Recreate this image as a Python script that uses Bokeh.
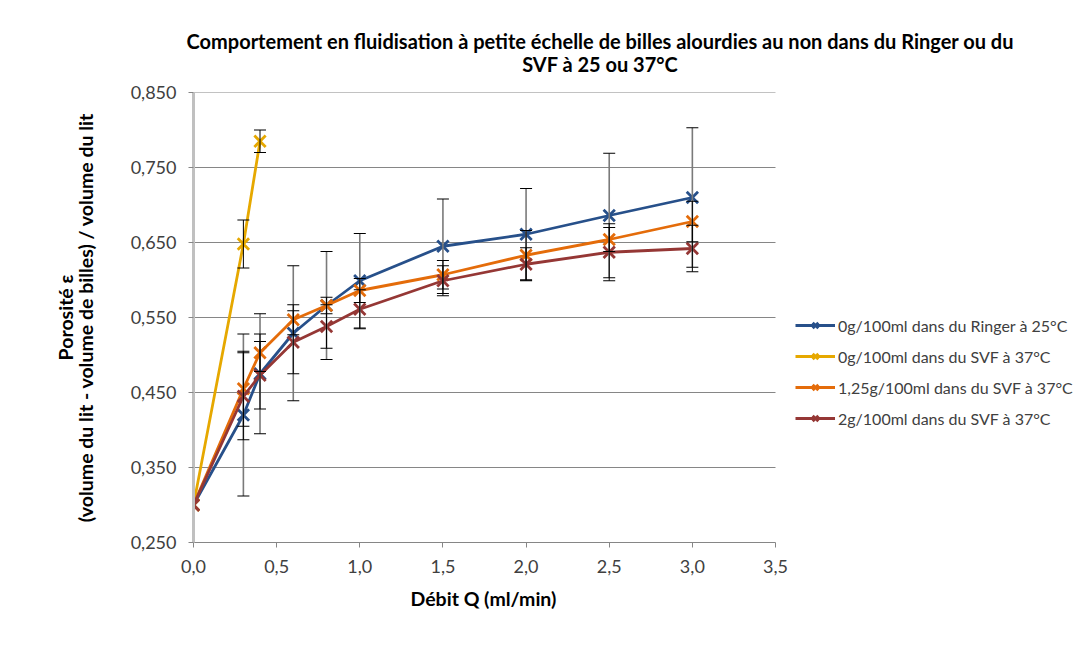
from bokeh.plotting import figure
from bokeh.layouts import column
from bokeh.models import (ColumnDataSource, FixedTicker, Range1d, Whisker, TeeHead,
                          Legend, LegendItem, Title, Div)
from bokeh.embed import file_html
from bokeh.resources import INLINE

# ---------------- data ----------------
title_line1 = "Comportement en fluidisation à petite échelle de billes alourdies au non dans du Ringer ou du"
title_line2 = "SVF à 25 ou 37°C"
x_title = "Débit Q (ml/min)"
y_title1 = "Porosité ε"
y_title2 = "(volume du lit - volume de billes) / volume du lit"

series_names = [
    "0g/100ml dans du Ringer à 25°C",
    "0g/100ml dans du SVF à 37°C",
    "1,25g/100ml dans du SVF à 37°C",
    "2g/100ml dans du SVF à 37°C",
]

debit_ringer = [0.0, 0.3, 0.4, 0.6, 0.8, 1.0, 1.5, 2.0, 2.5, 3.0]
por_ringer = [0.300, 0.420, 0.475, 0.529, 0.566, 0.599, 0.645, 0.661, 0.686, 0.710]
err_ringer = [0.0, 0.108, 0.080, 0.090, 0.072, 0.063, 0.063, 0.061, 0.083, 0.093]

debit_svf0 = [0.0, 0.3, 0.4]
por_svf0 = [0.300, 0.648, 0.785]
err_svf0 = [0.0, 0.032, 0.015]

debit_svf125 = [0.0, 0.3, 0.4, 0.6, 0.8, 1.0, 1.5, 2.0, 2.5, 3.0]
por_svf125 = [0.300, 0.455, 0.503, 0.547, 0.566, 0.586, 0.607, 0.633, 0.654, 0.678]
err_svf125 = [0.0, 0.050, 0.025, 0.020, 0.011, 0.016, 0.019, 0.033, 0.016, 0.027]

debit_svf2 = [0.0, 0.3, 0.4, 0.6, 0.8, 1.0, 1.5, 2.0, 2.5, 3.0]
por_svf2 = [0.300, 0.445, 0.473, 0.517, 0.538, 0.561, 0.599, 0.621, 0.637, 0.642]
err_svf2 = [0.0, 0.058, 0.045, 0.042, 0.029, 0.026, 0.020, 0.022, 0.038, 0.031]

x_ticks = [0.0, 0.5, 1.0, 1.5, 2.0, 2.5, 3.0, 3.5]
x_tick_labels = ["0,0", "0,5", "1,0", "1,5", "2,0", "2,5", "3,0", "3,5"]
y_ticks = [0.25, 0.35, 0.45, 0.55, 0.65, 0.75, 0.85]
y_tick_labels = ["0,250", "0,350", "0,450", "0,550", "0,650", "0,750", "0,850"]

colors = ["#27508A", "#E6A800", "#E46C0A", "#953735"]
err_colors = ["#7a7a7a", "#000000", "#000000", "#000000"]
err_widths = [1.6, 1.0, 1.0, 1.0]

FONT = "Lato"

# ---------------- layout geometry ----------------
W = 1080
TITLE_H = 70
PLOT_H = 565
FL, FT, FB = 193, 12, 103          # frame left / top / bottom borders
FR = 5                             # right border (legend lives inside frame)
axis_px = 582                      # pixel length of the 0 .. 3.5 axis
frame_w = W - FL - FR
x_end = x_ticks[-1] * frame_w / axis_px

# ---------------- title (two centred lines) ----------------
title_div = Div(
    text=(f'<div style="margin-left:160px;width:870px;text-align:center;white-space:nowrap;'
          f'font-family:Lato;font-weight:bold;font-size:20px;line-height:23px;'
          f'color:#000000;padding-top:25px;">{title_line1}<br>{title_line2}</div>'),
    width=W, height=TITLE_H)

p = figure(width=W, height=PLOT_H, output_backend="svg", toolbar_location=None,
           x_range=Range1d(x_ticks[0], x_end), y_range=Range1d(y_ticks[0], y_ticks[-1]),
           min_border_left=FL, min_border_right=FR, min_border_top=FT, min_border_bottom=FB,
           background_fill_color="white", border_fill_color="white")
p.title_location = None
p.outline_line_color = None
p.xgrid.visible = False
p.ygrid.visible = False

# horizontal gridlines limited to the axis extent
p.segment(x0=[x_ticks[0]] * (len(y_ticks) - 1), x1=[x_ticks[-1]] * (len(y_ticks) - 1),
          y0=y_ticks[1:], y1=y_ticks[1:], line_color="#868686", line_width=1)

p.xaxis.ticker = FixedTicker(ticks=x_ticks)
p.xaxis.major_label_overrides = dict(zip(x_ticks, x_tick_labels))
p.xaxis.bounds = (x_ticks[0], x_ticks[-1])
p.yaxis.ticker = FixedTicker(ticks=y_ticks)
p.yaxis.major_label_overrides = dict(zip(y_ticks, y_tick_labels))

for ax in (p.xaxis, p.yaxis):
    ax.minor_tick_line_color = None
    ax.major_tick_in = 0
    ax.major_tick_out = 5
    ax.major_tick_line_color = "#868686"
    ax.major_label_text_font = FONT
    ax.major_label_text_font_size = "18px"
    ax.major_label_text_color = "#404040"

p.xaxis.axis_line_color = "#868686"
p.yaxis.axis_line_color = "#c0c0c0"
p.yaxis.axis_line_width = 3
p.xaxis.major_label_standoff = 12
p.yaxis.major_label_standoff = 12
p.yaxis.axis_label = y_title2
p.yaxis.axis_label_standoff = 31
p.yaxis.axis_label_text_font = FONT
p.yaxis.axis_label_text_font_size = "19.5px"
p.yaxis.axis_label_text_font_style = "bold"
p.yaxis.axis_label_text_color = "#000000"

p.add_layout(Title(text=y_title1, text_font=FONT, text_font_size="19.5px",
                   text_font_style="bold", align="center", text_color="#000000",
                   standoff=-13), "left")

# x axis title, centred under the 0 .. 3.5 axis
p.add_layout(Title(text=x_title, text_font=FONT, text_font_size="19.5px",
                   text_font_style="bold", align="left", offset=217,
                   text_color="#000000", standoff=19), "below")

# ---------------- series ----------------
all_x = [debit_ringer, debit_svf0, debit_svf125, debit_svf2]
all_y = [por_ringer, por_svf0, por_svf125, por_svf2]
all_e = [err_ringer, err_svf0, err_svf125, err_svf2]

items = []
for name, xs, ys, es, c, ec, ew in zip(series_names, all_x, all_y, all_e, colors,
                                       err_colors, err_widths):
    src = ColumnDataSource(dict(x=xs, y=ys))
    wx = [x for x, e in zip(xs, es) if e > 0]
    wl = [y - e for y, e in zip(ys, es) if e > 0]
    wu = [y + e for y, e in zip(ys, es) if e > 0]
    wsrc = ColumnDataSource(dict(x=wx, lower=wl, upper=wu))
    w = Whisker(source=wsrc, base="x", lower="lower", upper="upper", dimension="height",
                line_color=ec, line_width=ew, level="glyph",
                upper_head=TeeHead(size=12, line_color="#000000", line_width=1),
                lower_head=TeeHead(size=12, line_color="#000000", line_width=1))
    p.add_layout(w)
    r1 = p.line("x", "y", source=src, line_color=c, line_width=2.8)
    r2 = p.scatter("x", "y", source=src, marker="x", size=16, line_color=c, line_width=2.8)
    items.append(LegendItem(label=name, renderers=[r1, r2]))

legend = Legend(items=items, location=(602, 114), glyph_width=40, glyph_height=20,
                label_height=20, spacing=11, padding=5, margin=0, label_standoff=3,
                label_text_font=FONT, label_text_font_size="16px",
                label_text_color="#404040", background_fill_alpha=0,
                border_line_color=None)
p.add_layout(legend)

page = column(title_div, p, spacing=0)
open("out.html", "w").write(file_html(page, INLINE))
